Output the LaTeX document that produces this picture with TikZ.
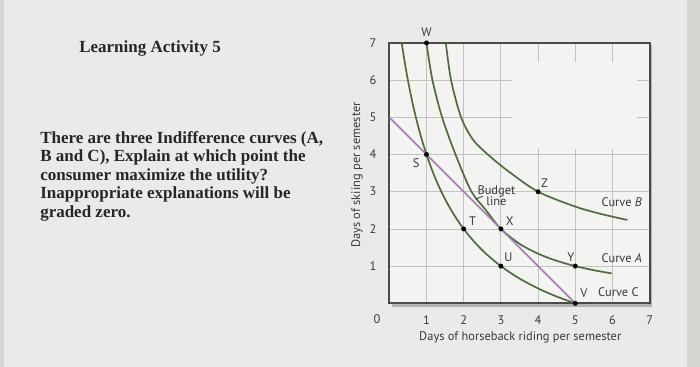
\documentclass[tikz,border=0pt]{standalone}
\usepackage{fontspec}
\setmainfont{Liberation Serif}
\newfontfamily\plotfont{PT Sans}
\definecolor{bgc}{HTML}{EAEAE8}
\definecolor{plotbg}{HTML}{F3F3F1}
\definecolor{gridc}{HTML}{C2C2C0}
\definecolor{curvec}{HTML}{4E6E3E}
\definecolor{budgetc}{HTML}{A67CB0}
\definecolor{framec}{HTML}{4A4A4A}
\definecolor{bandc}{HTML}{D6D6D3}
\definecolor{txtc}{HTML}{262626}
\definecolor{plottxt}{HTML}{3A3A3A}
\tikzset{
  bodytext/.style={font=\fontsize{13}{14.2}\selectfont\bfseries, text=txtc, inner sep=0pt, align=left},
  plottext/.style={font=\plotfont\fontsize{9.5}{10}\selectfont, text=plottxt, inner sep=0pt},
  curveline/.style={draw=curvec, line width=1.3pt},
  budgetline/.style={draw=budgetc, line width=1.2pt},
  gridline/.style={draw=gridc, line width=0.6pt},
  ptdot/.style={circle, fill=black, inner sep=0pt, minimum size=3.8pt},
}
\begin{document}
\begin{tikzpicture}[x=0.0268817cm, y=-0.0268817cm]
\useasboundingbox (0,0) rectangle (700,367);
\fill[bgc] (0,0) rectangle (700,367);
\fill[bandc] (687,0) rectangle (700,367);
\fill[black!16] (0,0) rectangle (4,367);
% left text
\node[bodytext, anchor=base west] (title) at (79,52.7) {Learning Activity 5};
\node[bodytext, anchor=base west] (question) at (40,217.3) {There are three Indifference curves (A,\\B and C), Explain at which point the\\consumer maximize the utility?\\Inappropriate explanations will be\\graded zero.};
% plot
\begin{scope}[shift={(389.3,303.3)}, x=1cm, y=1cm]
  \fill[black!30] (0.08,-0.09) rectangle (7.07,6.95);
  \fill[plotbg] (0,0) rectangle (7,7);
  \foreach \i in {1,...,6} {
    \draw[gridline] (\i,0) -- (\i,7);
    \draw[gridline] (0,\i) -- (7,\i);
  }
  \fill[plotbg] (3.3,4.15) rectangle (6.67,6.5);
  \draw[framec, line width=1.5pt] (0,0) rectangle (7,7);
  % curves
  \draw[curveline] plot[domain=0.333:5, samples=60, smooth] (\x,{12/(\x+1)-2});
  \draw[curveline] plot[smooth, tension=0.5] coordinates {(1,7) (1.16,6) (1.42,5) (1.78,4) (2.2,3.02) (2.6,2.5) (3,2) (3.5,1.6) (4,1.333) (4.5,1.143) (5,1) (5.5,0.889) (5.98,0.803)};
  \draw[curveline] plot[smooth, tension=0.5] coordinates {(1.52,7) (1.66,6) (1.93,5) (2.25,4.4) (2.65,4) (3.2,3.55) (4,3) (5,2.6) (5.7,2.4) (6.4,2.24)};
  \coordinate (b0) at (0,5);
  \coordinate (b1) at (5,0);
  \draw[budgetline] (b0) -- (b1);
  % points
  \node[ptdot] (W) at (1,7) {};
  \node[ptdot] (S) at (1,4) {};
  \node[ptdot] (T) at (2,2) {};
  \node[ptdot] (X) at (3,2) {};
  \node[ptdot] (U) at (3,1) {};
  \node[ptdot] (Y) at (5,1) {};
  \node[ptdot] (Z) at (4,3) {};
  \node[ptdot] (V) at (5,0) {};
  \node[plottext] (lW) at (1.0,7.3) {W};
  \node[plottext] (lS) at (0.72,3.76) {S};
  \node[plottext] (lT) at (2.24,2.22) {T};
  \node[plottext] (lX) at (3.24,2.22) {X};
  \node[plottext] (lU) at (3.2,1.24) {U};
  \node[plottext] (lY) at (4.88,1.24) {Y};
  \node[plottext] (lZ) at (4.17,3.24) {Z};
  \node[plottext] (lV) at (5.23,0.27) {V};
  \node[plottext, align=center, font=\plotfont\fontsize{9.5}{8.8}\selectfont] (lbud) at (2.88,2.9) {Budget\\ line};
  \coordinate (p0) at (2.32,2.8);
  \coordinate (p1) at (2.52,2.88);
  \draw[plottxt, line width=0.6pt] (p0) -- (p1);
  \node[plottext] (cB) at (6.25,2.73) {Curve \emph{B}};
  \node[plottext] (cA) at (6.25,1.21) {Curve \emph{A}};
  \node[plottext] (cC) at (6.16,0.29) {Curve C};
  % ticks
  \node[plottext] (t0) at (-0.33,-0.42) {0};
  \foreach \i in {1,...,7} {
    \node[plottext] (tx\i) at (\i,-0.45) {\i};
    \node[plottext] (ty\i) at (-0.44,\i) {\i};
  }
  \node[plottext] (xlab) at (3.52,-0.925) {Days of horseback riding per semester};
  \node[plottext, rotate=90] (ylab) at (-0.87,3.45) {Days of skiing per semester};
\end{scope}
\end{tikzpicture}
\end{document}
